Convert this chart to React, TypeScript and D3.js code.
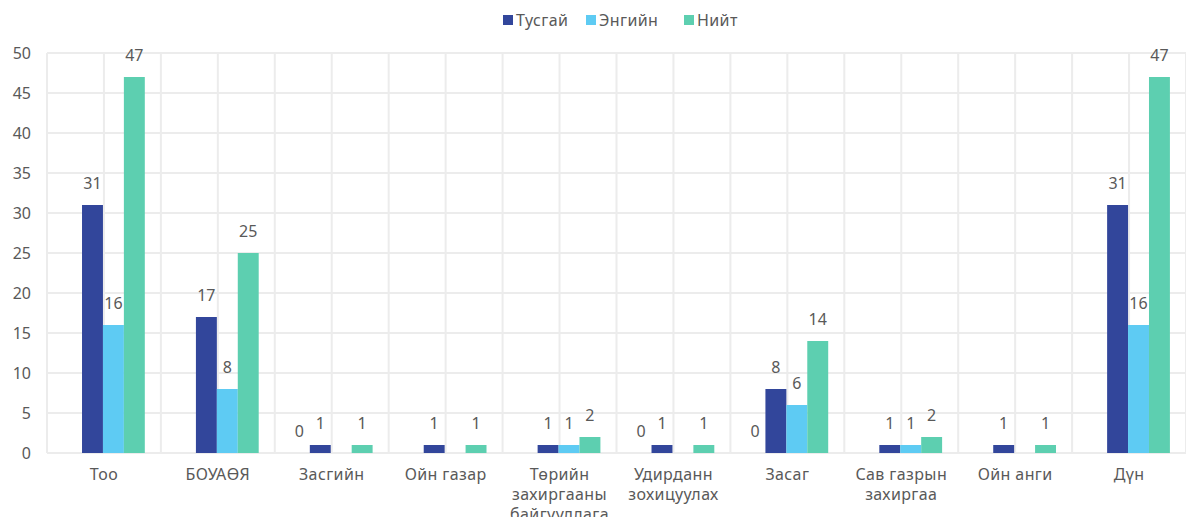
import React from "react";
import * as d3 from "d3";

const categories = [
  "Тоо",
  "БОУАӨЯ",
  "Засгийн",
  "Ойн газар",
  "Төрийн захиргааны байгууллага",
  "Удирданн зохицуулах",
  "Засаг",
  "Сав газрын захиргаа",
  "Ойн анги",
  "Дүн",
];
const catLines = [
  ["Тоо"],
  ["БОУАӨЯ"],
  ["Засгийн"],
  ["Ойн газар"],
  ["Төрийн", "захиргааны", "байгууллага"],
  ["Удирданн", "зохицуулах"],
  ["Засаг"],
  ["Сав газрын", "захиргаа"],
  ["Ойн анги"],
  ["Дүн"],
];
const seriesNames = ["", "Тусгай", "Энгийн", "Нийт"];
const seriesColors = ["#7f7f7f", "#32469b", "#5ecbf3", "#5dcfb0"];
const hiddenValues: (number | null)[] = [null, null, 0, null, null, 0, 0, null, null, null];
const tusgai: (number | null)[] = [31, 17, 1, 1, 1, 1, 8, 1, 1, 31];
const engiin: (number | null)[] = [16, 8, null, null, 1, null, 6, 1, null, 16];
const niit: (number | null)[] = [47, 25, 1, 1, 2, 1, 14, 2, 1, 47];
const yTicks = [0, 5, 10, 15, 20, 25, 30, 35, 40, 45, 50];

const W = 1186;
const H = 517;
const FONT = "'Noto Sans', sans-serif";
const TXT = "#595959";

export default function App() {
  const left = 47;
  const right = 1186;
  const top = 53;
  const bottom = 453;
  const x = d3.scaleBand<number>().domain(d3.range(categories.length)).range([left, right]).paddingInner(0).paddingOuter(0);
  const y = d3.scaleLinear().domain([0, 50]).range([bottom, top]);
  const bw = x.bandwidth();
  const inner = d3.scaleBand<number>().domain([0, 1, 2, 3]).range([0, bw * 0.735]);
  const groupOffset = (bw - bw * 0.735) / 2 - 1;
  const all = [hiddenValues, tusgai, engiin, niit];

  const gridX: number[] = [];
  for (let i = 0; i <= categories.length * 2; i++) gridX.push(left + (bw / 2) * i);

  const legendItems = [
    { name: seriesNames[1], color: seriesColors[1], x: 503 },
    { name: seriesNames[2], color: seriesColors[2], x: 586 },
    { name: seriesNames[3], color: seriesColors[3], x: 684 },
  ];

  return (
    <svg width={W} height={H} style={{ position: "absolute", left: 0, top: 0 }} fontFamily={FONT}>
      <rect width={W} height={H} fill="#fff" />
      {yTicks.map((t) => (
        <line key={"h" + t} x1={left} x2={right} y1={y(t)} y2={y(t)} stroke="#ececec" strokeWidth={2} />
      ))}
      {gridX.map((gx, i) => (
        <line key={"v" + i} x1={gx} x2={gx} y1={top} y2={bottom} stroke="#ececec" strokeWidth={2} />
      ))}
      {yTicks.map((t) => (
        <text key={"yl" + t} x={31} y={y(t)} dy="0.35em" textAnchor="end" fontSize={16} fill={TXT}>
          {t}
        </text>
      ))}
      {all.map((vals, s) =>
        vals.map((v, i) => {
          if (v === null) return null;
          const bx = (x(i) as number) + groupOffset + (inner(s) as number);
          const w = inner.bandwidth();
          return (
            <g key={`b${s}-${i}`}>
              {v > 0 && <rect x={bx} y={y(v)} width={w} height={bottom - y(v)} fill={seriesColors[s]} />}
              <text x={bx + w / 2} y={y(v) - 16} textAnchor="middle" fontSize={16} fill={TXT}>
                {v}
              </text>
            </g>
          );
        })
      )}
      {catLines.map((lines, i) => (
        <text key={"c" + i} x={(x(i) as number) + bw / 2} y={480} textAnchor="middle" fontSize={16} letterSpacing={0.4} fill={TXT}>
          {lines.map((l, j) => (
            <tspan key={j} x={(x(i) as number) + bw / 2} dy={j === 0 ? 0 : 20}>
              {l}
            </tspan>
          ))}
        </text>
      ))}
      {legendItems.map((it) => (
        <g key={it.name}>
          <rect x={it.x} y={15} width={10} height={10} fill={it.color} />
          <text x={it.x + 13} y={20} dy="0.35em" fontSize={16} letterSpacing={0.4} fill={TXT}>
            {it.name}
          </text>
        </g>
      ))}
    </svg>
  );
}
